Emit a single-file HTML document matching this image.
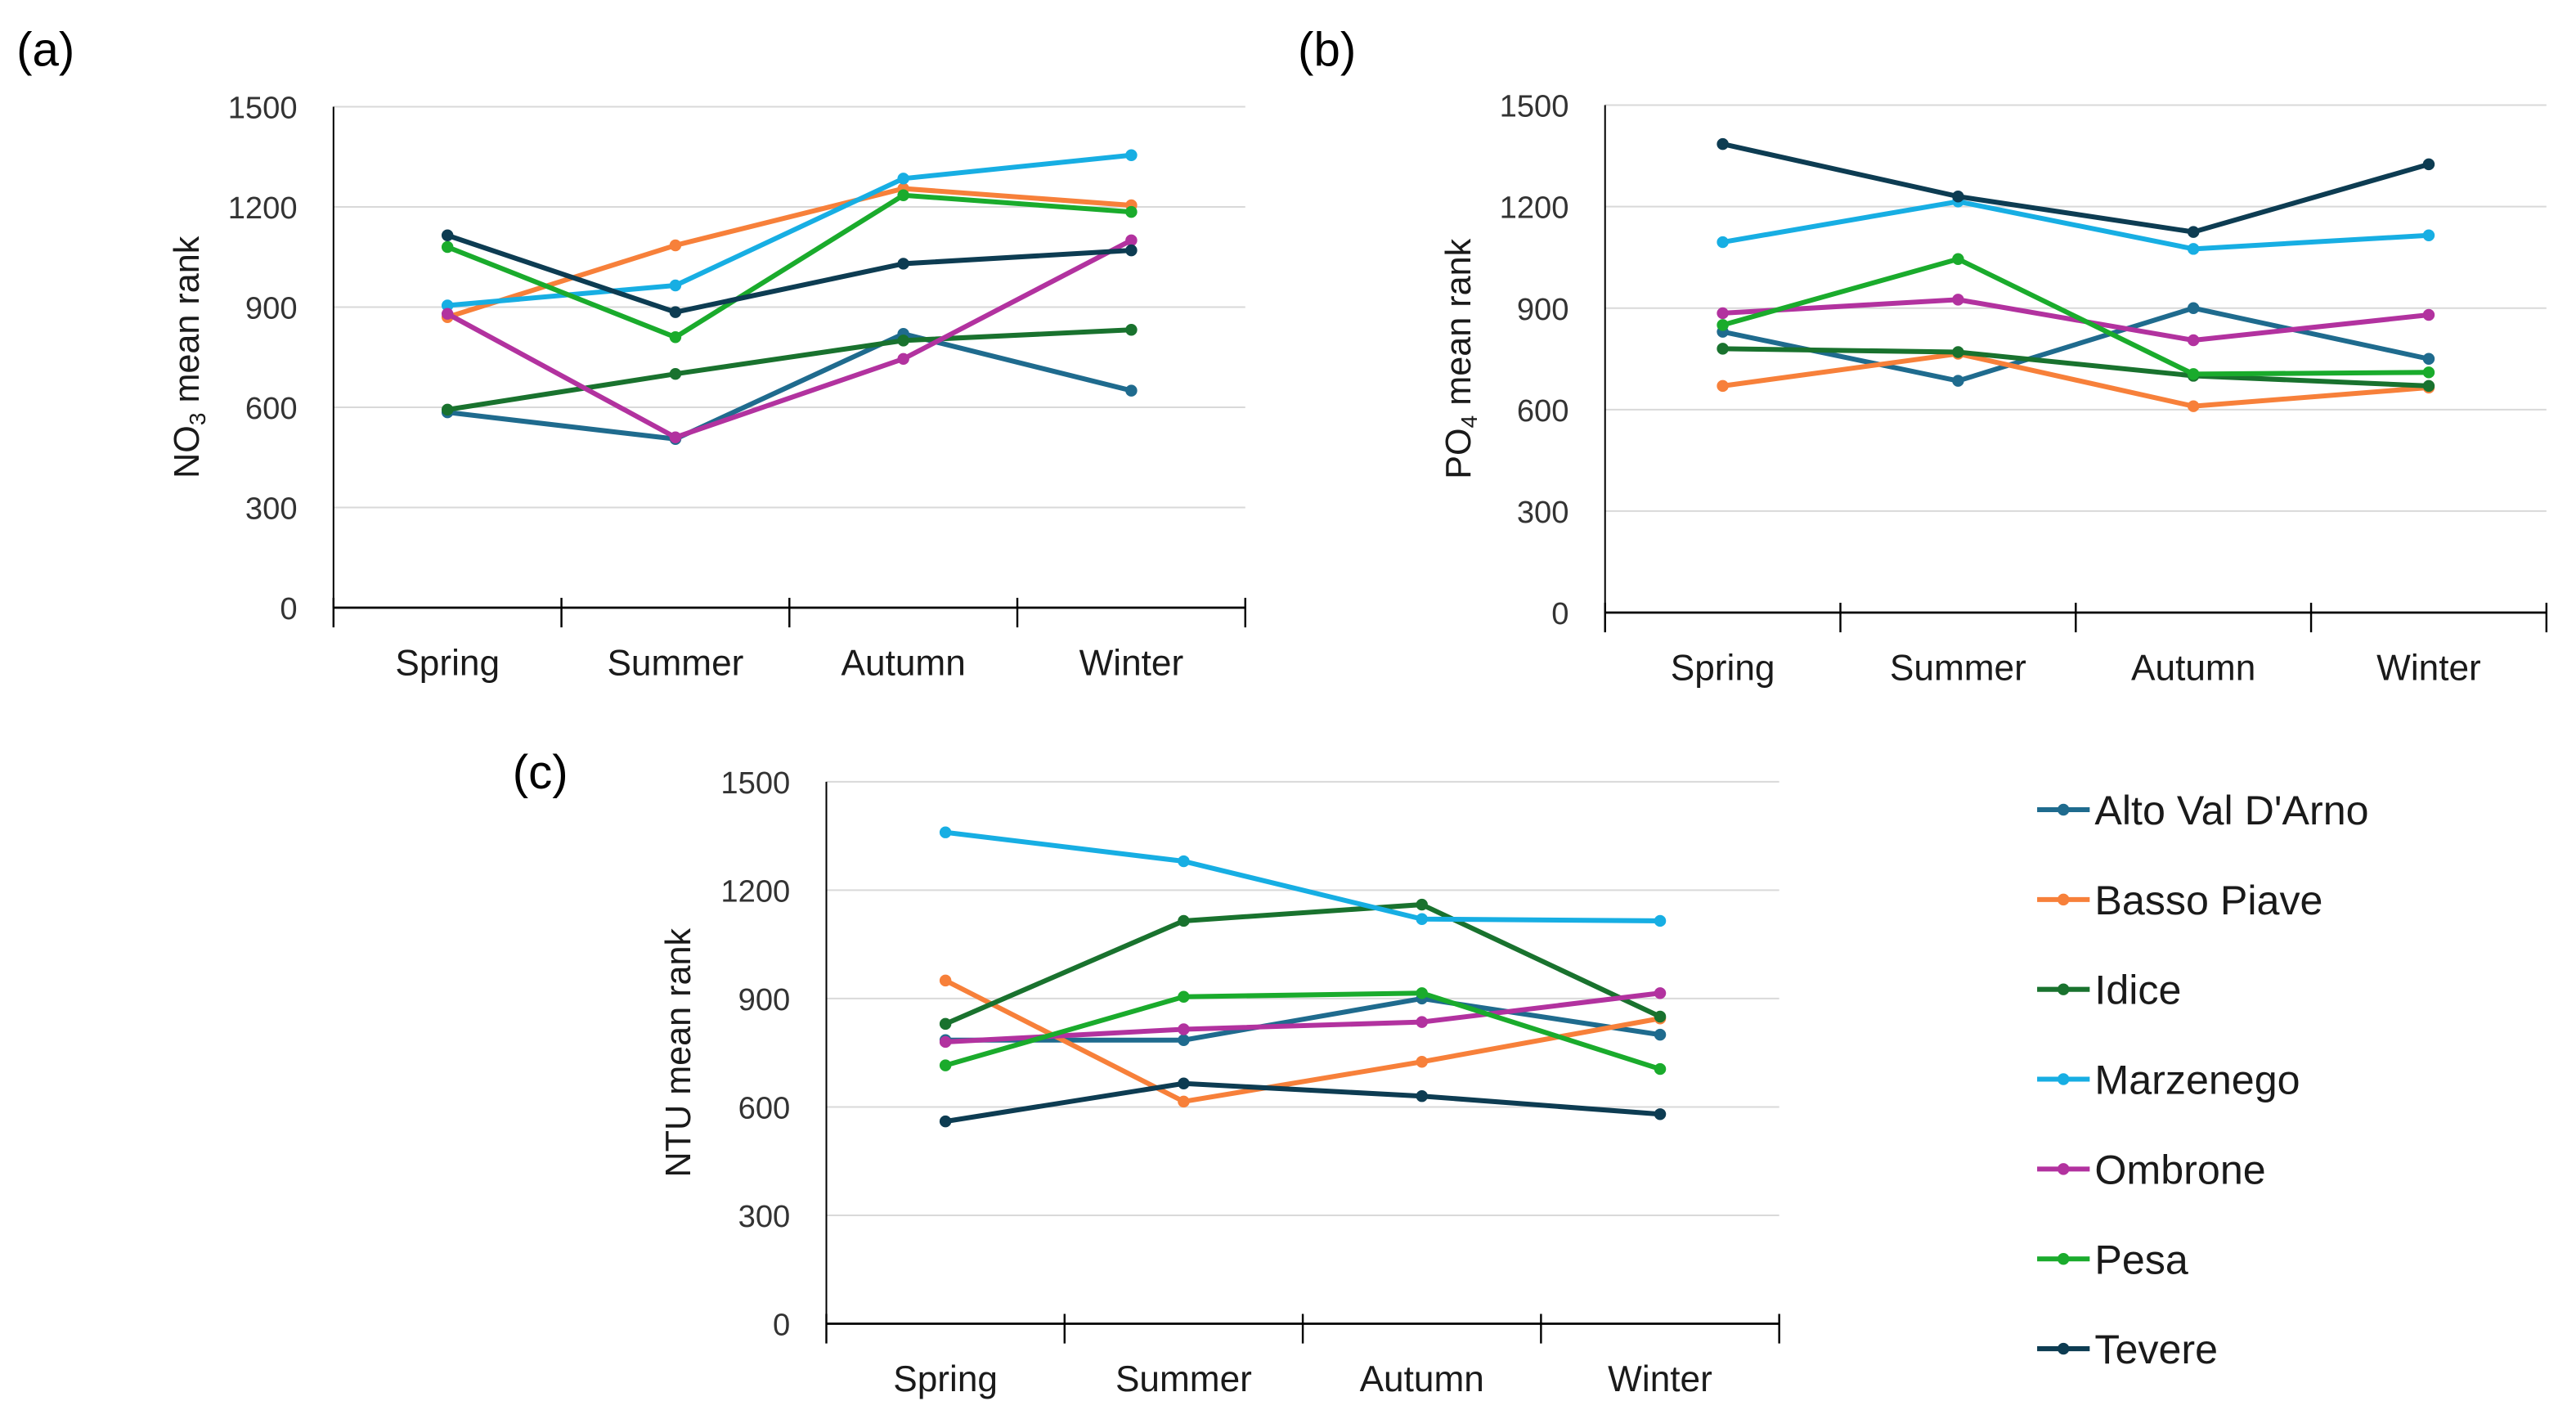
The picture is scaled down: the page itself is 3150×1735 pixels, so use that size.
<!DOCTYPE html>
<html><head><meta charset="utf-8"><style>
html,body{margin:0;padding:0;background:#fff;}
svg{display:block;font-family:"Liberation Sans",sans-serif;}
</style></head><body>
<svg id="fig" width="3150" height="1735" viewBox="0 0 1568 864" preserveAspectRatio="none"></svg>
<script>
const seasons = ["Spring","Summer","Autumn","Winter"];
const sites = ["Alto Val D'Arno","Basso Piave","Idice","Marzenego","Ombrone","Pesa","Tevere"];
const colors = ["#1f6b8e","#f7803a","#19722e","#17aee3","#b2329f","#1aab2c","#0d3c52"];
const yTicks = [0,300,600,900,1200,1500];
const no3Alto = [585,505,820,650];
const no3Basso = [870,1085,1255,1205];
const no3Idice = [593,700,800,832];
const no3Marz = [905,965,1285,1355];
const no3Omb = [880,510,745,1100];
const no3Pesa = [1080,810,1235,1185];
const no3Tev = [1115,885,1030,1070];
const po4Alto = [830,685,900,750];
const po4Basso = [670,765,610,665];
const po4Idice = [780,770,700,670];
const po4Marz = [1095,1215,1075,1115];
const po4Omb = [885,925,805,880];
const po4Pesa = [850,1045,705,710];
const po4Tev = [1385,1230,1125,1325];
const ntuAlto = [785,785,900,800];
const ntuBasso = [950,615,725,845];
const ntuIdice = [830,1115,1160,850];
const ntuMarz = [1360,1280,1120,1115];
const ntuOmb = [780,815,835,915];
const ntuPesa = [715,905,915,705];
const ntuTev = [560,665,630,580];

const NS="http://www.w3.org/2000/svg";
const svg=document.getElementById('fig');
function mk(tag,attrs,parent){const e=document.createElementNS(NS,tag);for(const k in attrs)e.setAttribute(k,attrs[k]);(parent||svg).appendChild(e);return e;}

function panel(id,letter,lx,ly,x0,x1,y0,y1,title,sub,rest,tx,series){
  const g=mk('g',{});
  
  
  const yS=v=>y0-(v/1500)*(y0-y1);
  const bw=(x1-x0)/seasons.length;
  const xS=i=>x0+bw*(i+0.5);
  yTicks.forEach(t=>{
    if(t>0){const gl=mk('line',{x1:x0,x2:x1,y1:yS(t),y2:yS(t),stroke:'#d9d9d9','stroke-width':1},g);
      }
    const tl=mk('text',{x:x0-22,y:yS(t)+7,'text-anchor':'end','font-size':19,fill:'#333'},g);
    tl.textContent=t;
    
  });
  const ax=mk('line',{x1:x0,x2:x1,y1:y0,y2:y0,stroke:'#000','stroke-width':1.4},g);
  
  const ay=mk('line',{x1:x0,x2:x0,y1:y1,y2:y0,stroke:'#000','stroke-width':1},g);
  
  for(let i=0;i<=seasons.length;i++){
    const tk=mk('line',{x1:x0+bw*i,x2:x0+bw*i,y1:y0-6,y2:y0+12,stroke:'#000','stroke-width':1.2},g);
    
  }
  seasons.forEach((s,i)=>{
    const t=mk('text',{x:xS(i),y:y0+41,'text-anchor':'middle','font-size':22,fill:'#1a1a1a'},g);
    t.textContent=s;
    
  });
  const ty=mk('text',{transform:`translate(${tx},${(y0+y1)/2}) rotate(-90)`,'text-anchor':'middle','font-size':21.5,fill:'#1a1a1a'},g);
  
  ty.appendChild(document.createTextNode(title));
  if(sub){const ts=mk('tspan',{'font-size':14,dy:4},ty);ts.textContent=sub;
    const tr=mk('tspan',{dy:-4},ty);tr.textContent=rest;}
  const lt=mk('text',{x:lx,y:ly,'font-size':29,fill:'#000'},g);
  lt.textContent='('+letter+')';
  
  series.forEach((vals,si)=>{
    const pts=vals.map((v,i)=>xS(i)+','+yS(v)).join(' ');
    const pl=mk('polyline',{points:pts,fill:'none',stroke:colors[si],'stroke-width':3,'stroke-linejoin':'round'},g);
    
    
    vals.forEach((v,i)=>{
      const c=mk('circle',{cx:xS(i),cy:yS(v),r:3.6,fill:colors[si]},g);
      
      
    });
  });
}
panel('a','a',10,40,203,758,370,65,'NO','3',' mean rank',121,[no3Alto,no3Basso,no3Idice,no3Marz,no3Omb,no3Pesa,no3Tev]);
panel('b','b',790,40,977,1550,373,64,'PO','4',' mean rank',895,[po4Alto,po4Basso,po4Idice,po4Marz,po4Omb,po4Pesa,po4Tev]);
panel('c','c',312,480,503,1083,806,476,'NTU mean rank',null,null,420,[ntuAlto,ntuBasso,ntuIdice,ntuMarz,ntuOmb,ntuPesa,ntuTev]);

const lg=mk('g',{});


sites.forEach((s,i)=>{
  const y=493+i*54.7;
  const l=mk('line',{x1:1240,x2:1272,y1:y,y2:y,stroke:colors[i],'stroke-width':3},lg);
  
  const c=mk('circle',{cx:1256,cy:y,r:3.6,fill:colors[i]},lg);
  
  const t=mk('text',{x:1275,y:y+9,'font-size':25,fill:'#1a1a1a'},lg);
  t.textContent=s;
  
});
</script>
</body></html>
